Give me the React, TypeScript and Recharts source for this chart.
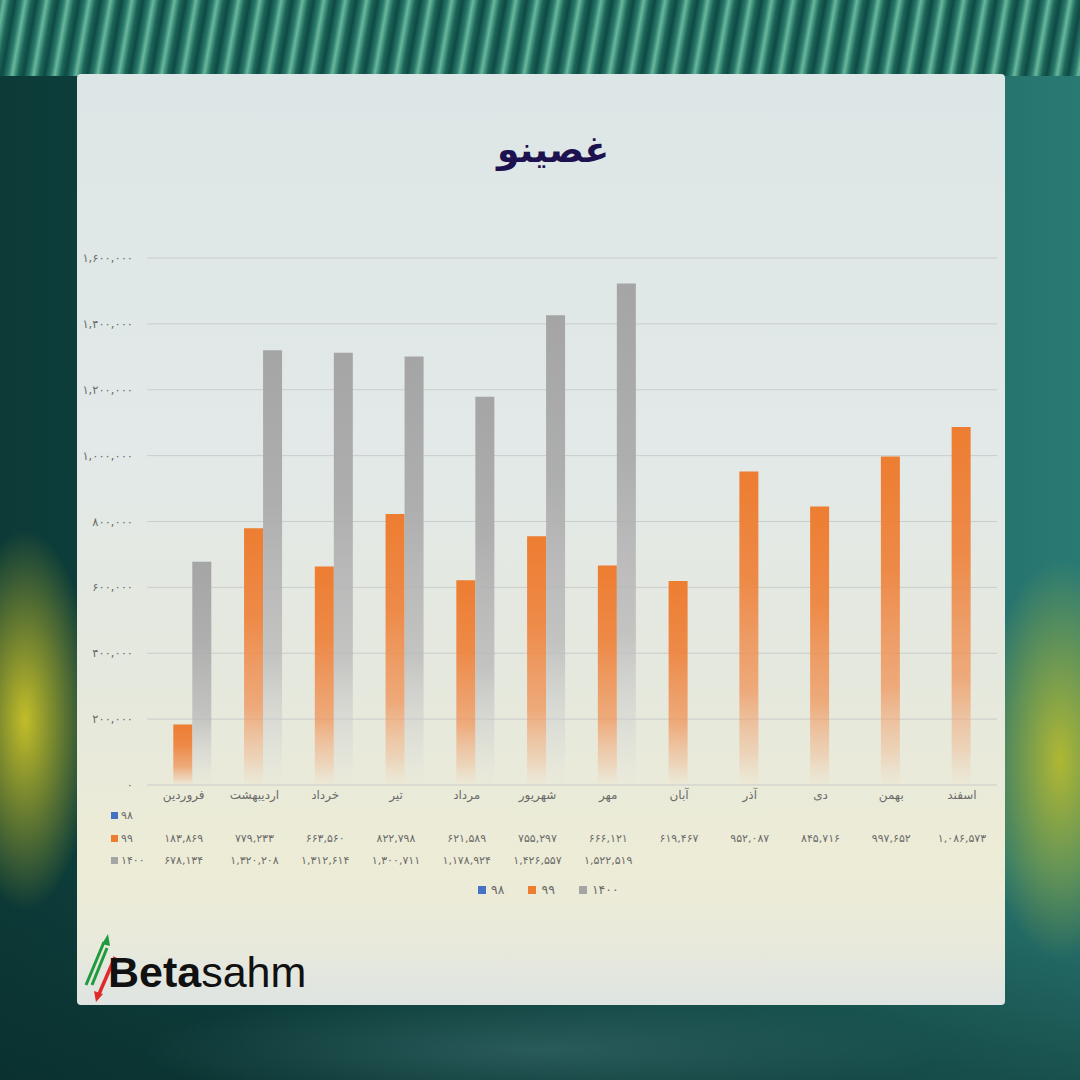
import React from 'react';
import { BarChart, Bar, XAxis, YAxis, CartesianGrid, Legend } from 'recharts';

const months = ['فروردین', 'اردیبهشت', 'خرداد', 'تیر', 'مرداد', 'شهریور', 'مهر', 'آبان', 'آذر', 'دی', 'بهمن', 'اسفند'];
const series98: (number | null)[] = [null, null, null, null, null, null, null, null, null, null, null, null];
const series99: (number | null)[] = [183869, 779233, 663560, 822798, 621589, 755297, 666121, 619467, 952087, 845716, 997652, 1086573];
const series1400: (number | null)[] = [678134, 1320208, 1312614, 1300711, 1178924, 1426557, 1522519, null, null, null, null, null];
const yTicks = [0, 200000, 400000, 600000, 800000, 1000000, 1200000, 1400000, 1600000];
const seriesNames = ['۹۸', '۹۹', '۱۴۰۰'];
const seriesColors = ['#4472C4', '#ED7D31', '#A5A5A5'];
const seriesRows = [series98, series99, series1400];
const title = 'غصینو';

const data = months.map((m, i) => ({ month: m, s98: series98[i], s99: series99[i], s1400: series1400[i] }));

const FONT = '"DejaVu Sans", sans-serif';
const TEXT = '#6b6b6b';

const toFa = (s: string) => s.replace(/\d/g, (d) => '۰۱۲۳۴۵۶۷۸۹'[Number(d)]);
const fmt = (n: number | null | undefined) => (n == null ? '' : toFa(n.toLocaleString('en-US')));
const rowFormatter = (row: (number | null)[]) => (m: string) => fmt(row[months.indexOf(m)]);

const tickStyle = { fontSize: 11, fill: TEXT, fontFamily: FONT };

const LegendContent = () => (
  <div style={{ display: 'flex', alignItems: 'center', fontFamily: FONT, fontSize: 12.5, color: TEXT }}>
    {seriesNames.map((n, i) => (
      <div key={n} style={{ display: 'flex', alignItems: 'center', marginRight: i < 2 ? 24 : 0 }}>
        <span style={{ display: 'inline-block', width: 8, height: 8, background: seriesColors[i], marginRight: 5 }} />
        <span>{n}</span>
      </div>
    ))}
  </div>
);

const pageBg = [
  'radial-gradient(ellipse 70px 190px at 25px 720px, rgba(205,196,40,0.95), rgba(205,196,40,0) 100%)',
  'radial-gradient(ellipse 80px 200px at 1060px 760px, rgba(190,190,45,0.9), rgba(190,190,45,0) 100%)',
  'radial-gradient(ellipse 400px 60px at 540px 1050px, rgba(60,110,110,0.6), rgba(60,110,110,0) 100%)',
  'repeating-linear-gradient(100deg, #2b7b6d 0px, #6ab89c 4px, #3f8f7c 7px, #1d6558 10px, #0e4a44 15px, #2b7b6d 21px) 0 0 / 1080px 76px no-repeat',
  'linear-gradient(180deg, rgba(0,0,0,0) 0%, rgba(0,0,0,0) 80%, rgba(8,40,40,0.5) 100%)',
  'linear-gradient(90deg, #0c3a37 0%, #12504b 50%, #2a7a74 100%)',
].join(', ');

export default function App() {
  return (
    <div style={{ position: 'absolute', left: 0, top: 0, width: 1080, height: 1080, overflow: 'hidden', background: pageBg }}>
      <div
        style={{
          position: 'absolute',
          left: 77,
          top: 74,
          width: 928,
          height: 931,
          borderRadius: 4,
          background: 'linear-gradient(180deg, #dde6e6 0%, #e2e9e8 40%, #e5e8dd 65%, #edecd6 85%, #e9eadb 93%, #dfe4e2 100%)',
        }}
      />
      <div
        style={{
          position: 'absolute',
          left: 77,
          width: 928,
          top: 132,
          textAlign: 'center',
          fontFamily: FONT,
          fontWeight: 'bold',
          fontSize: 36,
          lineHeight: 1,
          color: '#1d1150',
          paddingLeft: 12,
        }}
      >
        {title}
      </div>
      {seriesNames.map((n, i) => (
        <div
          key={n}
          style={{
            position: 'absolute',
            left: 111,
            top: [808, 831, 853][i],
            height: 14,
            display: 'flex',
            alignItems: 'center',
            fontFamily: FONT,
            fontSize: 11,
            color: TEXT,
          }}
        >
          <span style={{ display: 'inline-block', width: 7, height: 7, background: seriesColors[i], marginRight: 3 }} />
          <span>{n}</span>
        </div>
      ))}
      <div style={{ position: 'absolute', left: 0, top: 0 }}>
        <BarChart
          width={1080}
          height={1080}
          data={data}
          margin={{ top: 258, right: 73.6, left: 0, bottom: 208 }}
          barGap={0}
        >
          <defs>
            <linearGradient id="g99" x1="0" y1="0" x2="0" y2="1">
              <stop offset="0" stopColor="#ED7D31" stopOpacity={1} />
              <stop offset="0.35" stopColor="#EE8540" stopOpacity={0.95} />
              <stop offset="0.7" stopColor="#F0955A" stopOpacity={0.75} />
              <stop offset="0.9" stopColor="#F3AA7A" stopOpacity={0.35} />
              <stop offset="1" stopColor="#F7C6A4" stopOpacity={0.05} />
            </linearGradient>
            <linearGradient id="g1400" x1="0" y1="0" x2="0" y2="1">
              <stop offset="0" stopColor="#A5A5A5" stopOpacity={1} />
              <stop offset="0.35" stopColor="#ABABAB" stopOpacity={0.95} />
              <stop offset="0.7" stopColor="#B8B8B8" stopOpacity={0.75} />
              <stop offset="0.9" stopColor="#CFCFCF" stopOpacity={0.35} />
              <stop offset="1" stopColor="#E0E0E0" stopOpacity={0.05} />
            </linearGradient>
          </defs>
          <CartesianGrid
            xAxisId="cat"
            vertical={false}
            horizontal={(p: any) => (
              <line key={p.key} x1={p.x1 - 10} x2={p.x2 - 9.4} y1={p.y1} y2={p.y2} stroke="#c9cdcd" strokeWidth={1} />
            )}
          />
          <YAxis
            width={157.3}
            domain={[0, 1600000]}
            ticks={yTicks}
            interval={0}
            axisLine={false}
            tickLine={false}
            tickMargin={18.3}
            tickFormatter={(v: number) => fmt(v)}
            tick={{ ...tickStyle, fontSize: 11.5 }}
          />
          <XAxis
            xAxisId="cat"
            dataKey="month"
            interval={0}
            axisLine={false}
            tickLine={false}
            tickSize={0}
            tickMargin={5}
            height={20}
            tick={{ ...tickStyle, fontSize: 12, dx: -9 }}
          />
          {seriesRows.map((row, i) => (
            <XAxis
              key={i}
              xAxisId={'r' + i}
              dataKey="month"
              interval={0}
              axisLine={false}
              tickLine={false}
              tickSize={0}
              tickMargin={6.5}
              height={[23, 22, 22][i]}
              tickFormatter={rowFormatter(row)}
              tick={{ ...tickStyle, dx: -9 }}
            />
          ))}
          <Bar xAxisId="cat" dataKey="s99" name={seriesNames[1]} fill="url(#g99)" barSize={19} isAnimationActive={false} />
          <Bar xAxisId="cat" dataKey="s1400" name={seriesNames[2]} fill="url(#g1400)" barSize={19} isAnimationActive={false} />
          <Legend
            layout="horizontal"
            verticalAlign="middle"
            align="center"
            content={<LegendContent />}
            wrapperStyle={{ top: 882, left: 478, width: 'auto' }}
          />
        </BarChart>
      </div>
      <svg style={{ position: 'absolute', left: 80, top: 928 }} width={240} height={80}>
        <line x1={6} y1={57} x2={24} y2={14} stroke="#1f9a3c" strokeWidth={3} />
        <line x1={12} y1={57} x2={27} y2={20} stroke="#1f9a3c" strokeWidth={3} />
        <polygon points="28,6 22,16 30,18" fill="#1f9a3c" />
        <line x1={35} y1={29} x2={19} y2={66} stroke="#e02a2a" strokeWidth={3.5} />
        <polygon points="16,74 14,63 23,66" fill="#e02a2a" />
        <text x={28} y={59} fontFamily='"Liberation Sans", Arial, sans-serif' fontSize={43} fill="#111">
          <tspan fontWeight="bold">Beta</tspan>
          <tspan>sahm</tspan>
        </text>
      </svg>
    </div>
  );
}
